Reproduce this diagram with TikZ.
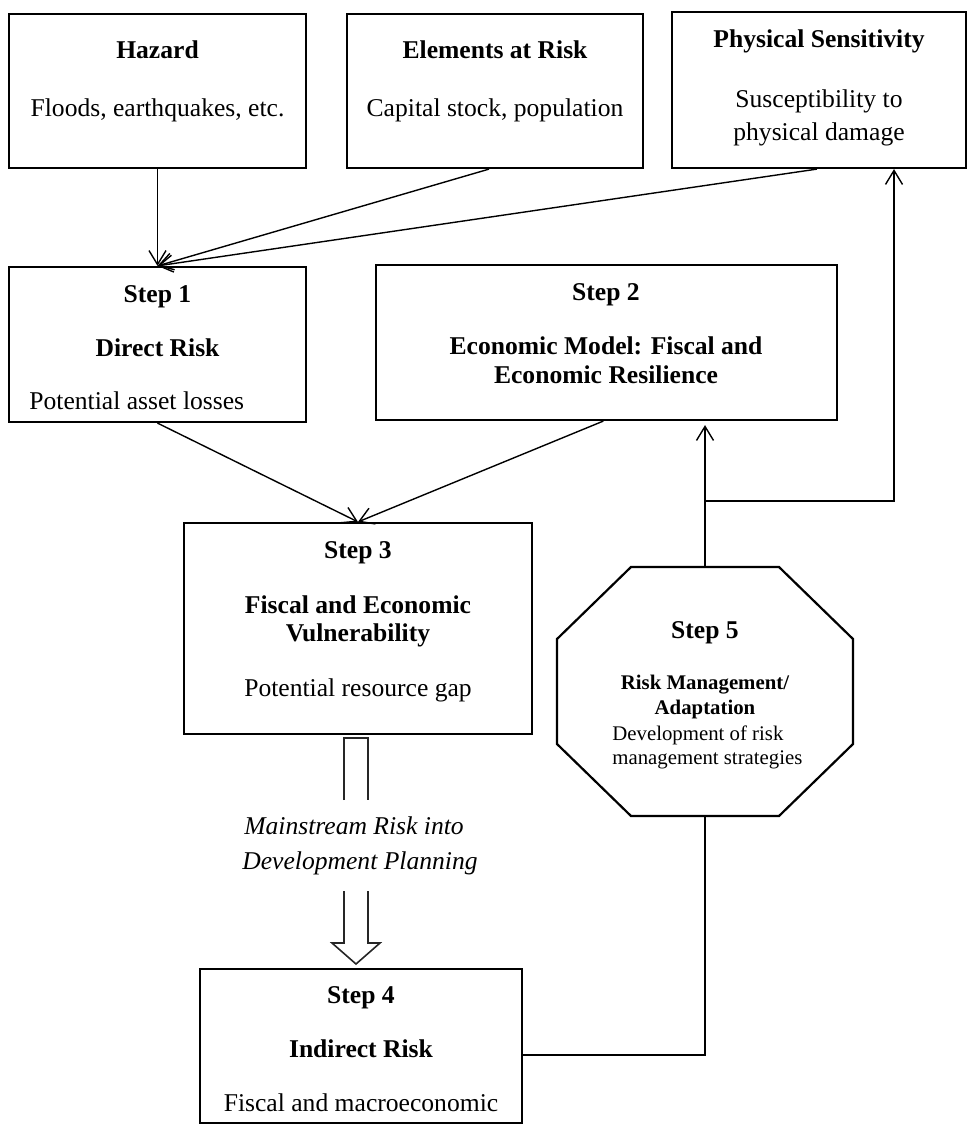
\documentclass[tikz,border=0pt]{standalone}
\usepackage{fontspec}
\setmainfont{Liberation Serif}
\usetikzlibrary{arrows.meta,fit,calc}
\begin{document}
\begin{tikzpicture}[x=0.5pt,y=-0.5pt,
  box/.style={draw, line width=1.1pt, inner sep=0pt},
  ghost/.style={inner sep=0pt},
  txt/.style={inner sep=0pt, text height=8.4pt, text depth=0pt, font=\fontsize{12.8}{15}\selectfont},
  hd/.style={txt, font=\fontsize{12.8}{15}\selectfont\bfseries},
  it/.style={txt, font=\fontsize{12.8}{15}\selectfont\itshape},
  sm/.style={inner sep=0pt, text height=6.9pt, text depth=0pt, font=\fontsize{10.4}{12}\selectfont},
  smb/.style={sm, font=\fontsize{10.4}{12}\selectfont\bfseries},
  conn/.style={line width=0.7pt, -{Straight Barb[length=7pt,width=8.5pt,line width=0.7pt]}},
  plain/.style={line width=0.7pt},
  hollow/.style={line width=0.8pt, draw=black!85},
  octo/.style={line width=1.1pt}
]
\useasboundingbox (0,0) rectangle (970,1129);

% boxes
\node[box, fit={(9,14) (306,168)}] (hazard) {};
\node[box, fit={(347,14) (643,168)}] (elem) {};
\node[box, fit={(672,12) (966,168)}] (phys) {};
\node[box, fit={(9,267) (306,422)}] (step1) {};
\node[box, fit={(376,265) (837,420)}] (step2) {};
\node[box, fit={(184,523) (532,734)}] (step3) {};
\node[box, fit={(200,969) (522,1123)}] (step4) {};
\node[ghost, fit={(557,567) (853,816)}] (step5) {};
\draw[octo] (631,567) -- (779,567) -- (853,639) -- (853,744) -- (779,816)
  -- (631,816) -- (557,744) -- (557,639) -- cycle;

% texts
\node[hd] (hazT) at (157.5,50) {Hazard};
\node[txt] (hazS) at (157.5,108) {Floods, earthquakes, etc.};
\node[hd] (elT) at (495,50) {Elements at Risk};
\node[txt] (elS) at (495,108) {Capital stock, population};
\node[hd] (phT) at (819,39) {Physical Sensitivity};
\node[txt] (phS1) at (819,99) {Susceptibility to};
\node[txt] (phS2) at (819,132) {physical damage};

\node[hd] (s1T) at (157.5,294) {Step 1};
\node[hd] (s1H) at (157.5,348) {Direct Risk};
\node[txt, anchor=west] (s1S) at (29,401) {Potential asset losses};

\node[hd] (s2T) at (606,292) {Step 2};
\node[hd] (s2H1) at (606,346) {Economic Model: Fiscal and};
\node[hd] (s2H2) at (606,375) {Economic Resilience};

\node[hd] (s3T) at (358,550) {Step 3};
\node[hd] (s3H1) at (358,605) {Fiscal and Economic};
\node[hd] (s3H2) at (358,633) {Vulnerability};
\node[txt] (s3S) at (358,688) {Potential resource gap};

\node[hd] (s5T) at (705,630) {Step 5};
\node[smb] (s5H1) at (705,683) {Risk Management/};
\node[smb] (s5H2) at (705,708) {Adaptation};
\node[sm, anchor=west] (s5S1) at (612,734) {Development of risk};
\node[sm, anchor=west] (s5S2) at (612,758) {management strategies};

\node[it] (mr1) at (354,826) {Mainstream Risk into};
\node[it] (mr2) at (360,861) {Development Planning};

\node[hd] (s4T) at (361,995) {Step 4};
\node[hd] (s4H) at (361,1049) {Indirect Risk};
\node[txt] (s4S) at (361,1103) {Fiscal and macroeconomic};

% connectors
\draw[conn] (hazard.south) -- (step1.north);
\draw[conn] ($(elem.south west)!0.48!(elem.south east)$) -- (step1.north);
\draw[conn] ($(phys.south west)!0.493!(phys.south east)$) -- (step1.north);
\draw[conn] (step1.south) -- (step3.north);
\draw[conn] ($(step2.south west)!0.493!(step2.south east)$) -- (step3.north);

\coordinate (j) at (step5.north |- 0,501);
\coordinate (jr) at (894,501);
\draw[conn, shorten >=2pt] (step5.north) -- (step5.north |- step2.south);
\draw[conn] (j) -- (jr) -- (jr |- phys.south);
\draw[plain] ($(step4.east)+(0,9)$) -| (step5.south);

% hollow arrow
\draw[hollow] (344,800) -- (344,738) -- (368,738) -- (368,800);
\draw[hollow] (344,891) -- (344,943) -- (332,943) -- (356,964) -- (380,943)
  -- (368,943) -- (368,891);
\end{tikzpicture}
\end{document}
